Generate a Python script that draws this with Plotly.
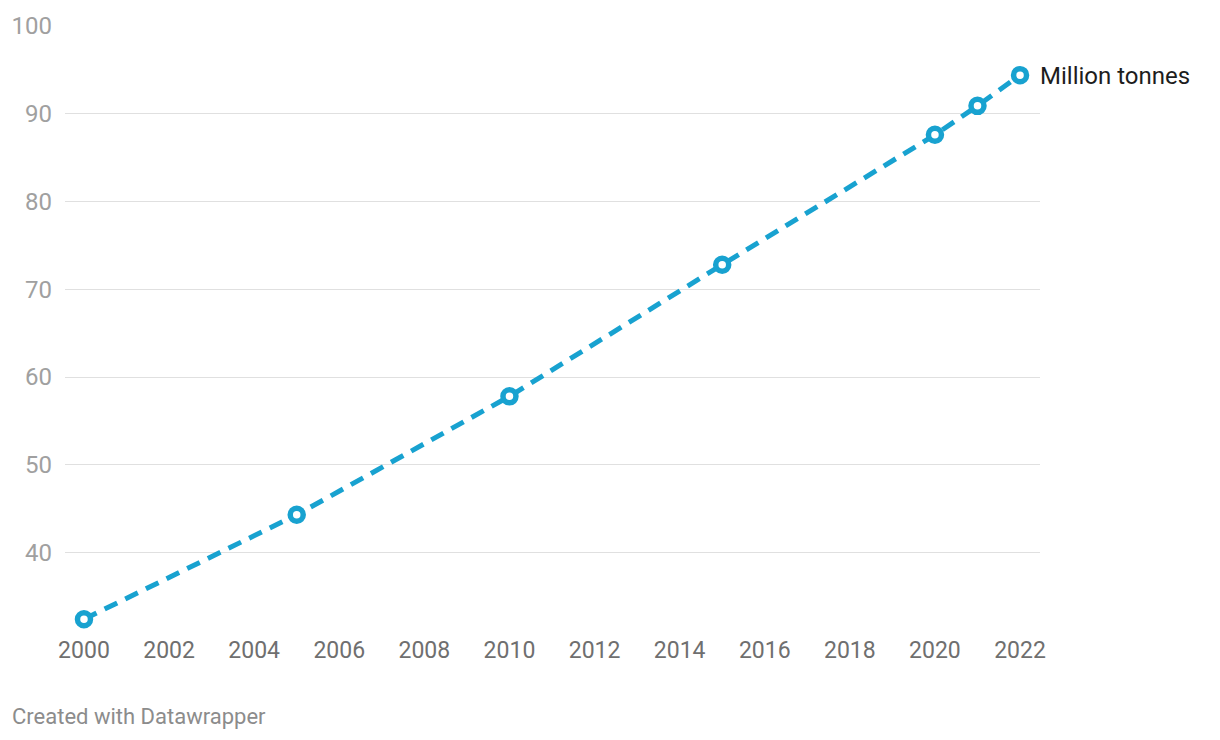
import plotly.graph_objects as go

years = [2000, 2005, 2010, 2015, 2020, 2021, 2022]
values = [32.4, 44.3, 57.8, 72.8, 87.6, 90.9, 94.4]
series_label = "Million tonnes"
x_ticks = list(range(2000, 2023, 2))
y_ticks = [40, 50, 60, 70, 80, 90, 100]

BLUE = "#18a2d0"

fig = go.Figure()
fig.add_trace(go.Scatter(
    x=years, y=values, mode="lines+markers",
    line=dict(color=BLUE, width=5, dash="14px,9px"),
    marker=dict(size=13, color="white", line=dict(color=BLUE, width=5.5)),
    cliponaxis=False, hoverinfo="skip", showlegend=False,
))

fig.add_annotation(
    x=years[-1], y=values[-1], xref="x", yref="y",
    text=series_label, showarrow=False, xanchor="left", yanchor="middle",
    xshift=18, yshift=-1, font=dict(family="Roboto", size=24, color="#1d1d1d"),
)
fig.add_annotation(
    x=0, y=0, xref="paper", yref="paper", xanchor="left", yanchor="middle",
    text="Created with Datawrapper", showarrow=False,
    xshift=-55, yshift=-85,
    font=dict(family="Roboto", size=22, color="#8c8c8c"),
)

fig.update_layout(
    width=1220, height=740,
    margin=dict(l=63, r=180, t=22, b=109),
    paper_bgcolor="white", plot_bgcolor="white",
    font=dict(family="Roboto"),
    xaxis=dict(
        range=[1999.554, 2022.469], tickvals=x_ticks,
        showgrid=False, zeroline=False, showline=False,
        ticks="", ticklabelstandoff=3,
        tickfont=dict(family="Roboto", size=23, color="#6f6f6f"),
    ),
    yaxis=dict(
        range=[31.06, 100], tickvals=y_ticks,
        showgrid=True, gridcolor="#e0e0e0", gridwidth=1,
        zeroline=False, showline=False, ticks="",
        ticklabelstandoff=12,
        tickfont=dict(family="Roboto", size=24, color="#a0a0a0"),
    ),
)

fig.write_html("out.html")
